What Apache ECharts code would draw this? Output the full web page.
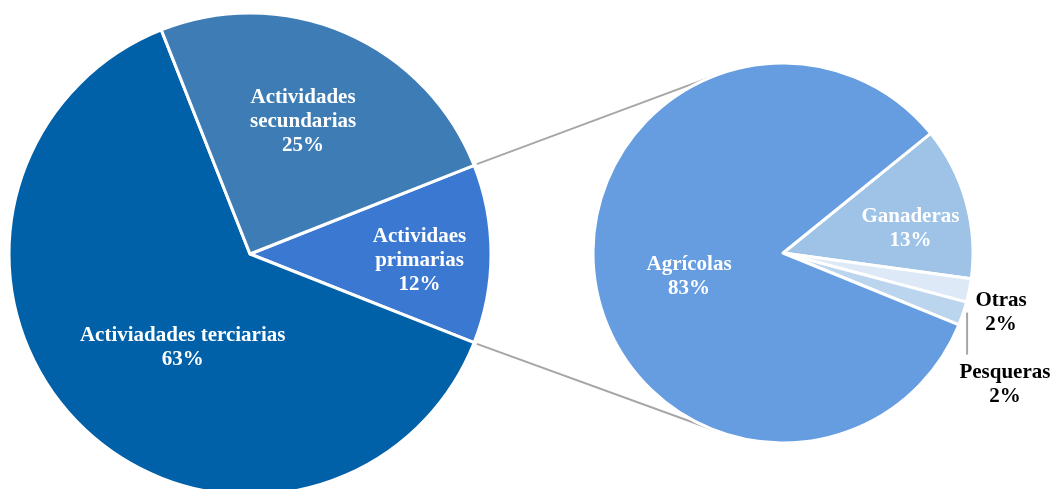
<!DOCTYPE html>
<html style="height: 100%">
    <head>
        <title>Pie of pie</title>
        <script type="text/javascript" src="https://cdn.jsdelivr.net/npm/echarts@6/dist/echarts.min.js"></script>
    </head>
    <body style="height: 100%; margin: 0; background: #fff">
        <div id="target" style="width: 1052px; height: 489px"></div>
<script>

// main pie
const mainNames = ["Actividaes\nprimarias", "Activiadades terciarias", "Actividades\nsecundarias"];
const mainValues = [12, 63, 25];
const mainColors = ["#3B78D2", "#0060A8", "#3D7CB4"];

// breakdown of "primarias"
const subNames = ["Ganaderas", "Otras", "Pesqueras", "Agrícolas"];
const subValues = [13, 2, 2, 83];
const subColors = ["#9EC3E6", "#DDE9F6", "#BCD5EE", "#669DE0"];

// label nudges (dx, dy) from the default inside position
const mainNudge = [[46, 7], [20, 6], [4, -19]];
const subNudge = [[33, 2], [122, 40], [129, 100], [3, 9]];
const subTextColor = ["#fff", "#000", "#000", "#fff"];

const mainCenter = [250, 254], mainR = 241;
const subCenter = [783, 253], subR = 190;
const subStart = 39;

let chart = echarts.init(document.getElementById('target'));

const total = mainValues.reduce((a, b) => a + b, 0);
const halfAngle = mainValues[0] / total * 180;   // primarias slice centred on 0 deg

const font = {
    fontFamily: "Liberation Serif",
    fontWeight: "bold",
    fontSize: 21,
    lineHeight: 24,
};

// connector lines: from primarias edges to tangent points of the second pie
function connector(sign)
{
    let a = sign * halfAngle * Math.PI / 180;
    let p = [mainCenter[0] + (mainR + 3) * Math.cos(a), mainCenter[1] - (mainR + 3) * Math.sin(a)];
    let dx = p[0] - subCenter[0], dy = -(p[1] - subCenter[1]);
    let d = Math.sqrt(dx * dx + dy * dy);
    let dir = Math.atan2(dy, dx);
    let t = dir - sign * Math.acos(subR / d);
    let q = [subCenter[0] + subR * Math.cos(t), subCenter[1] - subR * Math.sin(t)];
    return {
        type: "line",
        shape: { x1: p[0], y1: p[1], x2: q[0], y2: q[1] },
        style: { stroke: "#A6A6A6", lineWidth: 2 },
        silent: true,
    };
}

// leader line for Pesqueras: from slice edge straight down
const subTotal = subValues.reduce((a, b) => a + b, 0);
let acc = 0;
for (let i = 0; i < 2; i++) acc += subValues[i];
const pesqMid = (subStart - (acc + subValues[2] / 2) / subTotal * 360) * Math.PI / 180;
const lx = subCenter[0] + subR * Math.cos(pesqMid);
const ly = subCenter[1] - subR * Math.sin(pesqMid);

let option = {
    animation: false,
    graphic: [
        connector(1),
        connector(-1),
        {
            type: "line",
            shape: { x1: lx + 4, y1: ly - 1, x2: lx + 4, y2: ly + 41 },
            style: { stroke: "#A6A6A6", lineWidth: 2 },
            silent: true,
        },
    ],
    series: [
        {
            type: "pie",
            center: mainCenter,
            radius: mainR,
            startAngle: halfAngle,
            clockwise: true,
            avoidLabelOverlap: false,
            itemStyle: { borderColor: "#fff", borderWidth: 3 },
            label: Object.assign({
                show: true,
                position: "inside",
                color: "#fff",
                formatter: p => p.name + "\n" + p.value + "%",
            }, font),
            labelLine: { show: false },
            labelLayout: p => ({ dx: mainNudge[p.dataIndex][0], dy: mainNudge[p.dataIndex][1] }),
            emphasis: { disabled: true },
            data: mainNames.map((n, i) => ({ name: n, value: mainValues[i], itemStyle: { color: mainColors[i] } })),
        },
        {
            type: "pie",
            center: subCenter,
            radius: subR,
            startAngle: subStart,
            clockwise: true,
            avoidLabelOverlap: false,
            itemStyle: { borderColor: "#fff", borderWidth: 3 },
            label: Object.assign({
                show: true,
                position: "inside",
                formatter: p => p.name + "\n" + p.value + "%",
            }, font),
            labelLine: { show: false },
            labelLayout: p => ({ dx: subNudge[p.dataIndex][0], dy: subNudge[p.dataIndex][1] }),
            emphasis: { disabled: true },
            data: subNames.map((n, i) => ({
                name: n,
                value: subValues[i],
                itemStyle: { color: subColors[i] },
                label: { color: subTextColor[i] },
            })),
        },
    ],
};

chart.setOption(option);

</script>
    </body>
</html>
